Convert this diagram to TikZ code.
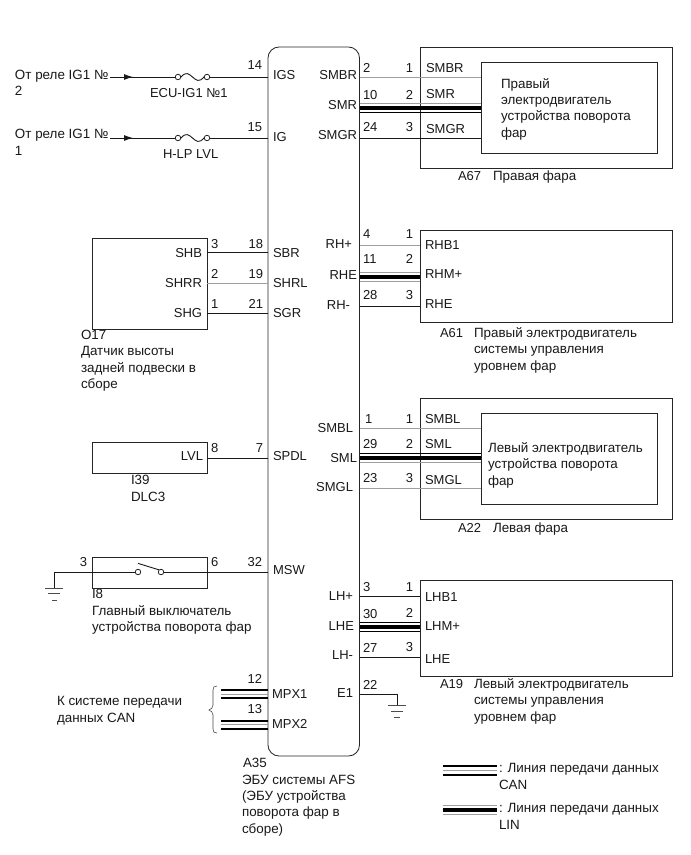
\documentclass[tikz,border=0pt]{standalone}
\usepackage{fontspec}
\setmainfont{Liberation Sans}
\usetikzlibrary{arrows.meta}
\definecolor{wgray}{gray}{0.62}
\tikzset{
  x=1pt,y=-1pt,
  box/.style={draw=black!85,line width=0.85pt,fill=white,inner sep=0pt,outer sep=0pt},
  wire/.style={line width=0.9pt,draw=black!90},
  gwire/.style={line width=1pt,draw=wgray},
  bus/.style={line width=4pt,draw=black},
  can/.style={line width=2pt,draw=black},
  lw/.style={anchor=base west,inner sep=0pt,outer sep=0pt,font=\fontsize{13}{16.3}\selectfont,text=black!90},
  le/.style={anchor=base east,inner sep=0pt,outer sep=0pt,font=\fontsize{13}{16.3}\selectfont,text=black!90},
  ml/.style={lw,align=left,font=\fontsize{13.4}{16.3}\selectfont},
  term/.style={circle,draw=black!85,line width=0.8pt,fill=white,inner sep=0pt,minimum size=5.5pt},
  gnd/.style={line width=0.8pt,draw=black!70},
}
% #1 left anchor, #2 right anchor, #3 y, #4 top colour, #5 bottom colour
\newcommand{\linwire}[5]{%
  \draw[line width=0.9pt,draw=#4] (#1 |- 0,#3-4.5) -- (#2 |- 0,#3-4.5);
  \draw[bus] (#1 |- 0,#3) -- (#2 |- 0,#3);
  \draw[line width=0.9pt,draw=#5] (#1 |- 0,#3+4.5) -- (#2 |- 0,#3+4.5);}
\begin{document}
\begin{tikzpicture}
\useasboundingbox (0,0) rectangle (691,855);
\fill[white] (0,0) rectangle (691,855);
% boxes (outer first)
\node[box,rounded corners=11pt,minimum width=91.5pt,minimum height=709pt] (ecu) at (313.75,401.5) {};
\node[box,minimum width=252pt,minimum height=121pt] (a67) at (546,107.5) {};
\node[box,minimum width=252pt,minimum height=92pt] (a61) at (546,276) {};
\node[box,minimum width=252pt,minimum height=121pt] (a22) at (546,458.5) {};
\node[box,minimum width=252pt,minimum height=96pt] (a19) at (546,628) {};
\node[box,minimum width=115pt,minimum height=91pt] (o17) at (149.5,283.5) {};
\node[box,minimum width=115pt,minimum height=31pt] (i39) at (149.5,457.5) {};
\node[box,minimum width=115pt,minimum height=31pt] (i8) at (149.5,572.5) {};
% inner boxes, placed so right wires can end on them
\coordinate (a67e) at (481,107.5);
\coordinate (a22e) at (481,458.5);
\draw[gwire] (ecu.east |- 0,77) -- (a67e |- 0,77);
\draw[wire] (ecu.east |- 0,138) -- (a67e |- 0,138);
\linwire{ecu.east}{a67e}{107.7}{wgray}{black}
\draw[gwire] (ecu.east |- 0,428) -- (a22e |- 0,428);
\draw[gwire] (ecu.east |- 0,488) -- (a22e |- 0,488);
\linwire{ecu.east}{a22e}{457.7}{black}{wgray}
\node[box,minimum width=176pt,minimum height=91pt] (a67m) at (569,107.5) {};
\node[box,minimum width=176pt,minimum height=91pt] (a22m) at (569,458.5) {};
\draw[gwire] (ecu.east |- 0,245.7) -- (a61.west |- 0,245.7);
\linwire{ecu.east}{a61.west}{276.5}{wgray}{wgray}
\draw[wire] (ecu.east |- 0,306) -- (a61.west |- 0,306);
\draw[wire] (ecu.east |- 0,596) -- (a19.west |- 0,596);
\linwire{ecu.east}{a19.west}{627}{black}{black}
\draw[wire] (ecu.east |- 0,657) -- (a19.west |- 0,657);
% left wires
\draw[wire] (o17.east |- 0,252) -- (ecu.west |- 0,252);
\draw[gwire] (o17.east |- 0,283) -- (ecu.west |- 0,283);
\draw[wire] (o17.east |- 0,313) -- (ecu.west |- 0,313);
\draw[wire] (i39.east |- 0,458) -- (ecu.west |- 0,458);
% fuse feeds
\coordinate (s1) at (110,77);
\coordinate (s2) at (110,138);
\node[term] (f1a) at (178,77) {};
\node[term] (f1b) at (207,77) {};
\node[term] (f2a) at (178,138) {};
\node[term] (f2b) at (207,138) {};
\draw[wire,-{Latex[length=9pt,width=6pt]}] (s1) -- (133,77);
\draw[wire] (s1) -- (f1a) (f1b) -- (ecu.west |- f1b);
\draw[wire,-{Latex[length=9pt,width=6pt]}] (s2) -- (133,138);
\draw[wire] (s2) -- (f2a) (f2b) -- (ecu.west |- f2b);
\draw[wire] (f1a.east) .. controls (186,71) and (189,74) .. (192.5,77) .. controls (196,80) and (199,83) .. (f1b.west);
\draw[wire] (f2a.east) .. controls (186,132) and (189,135) .. (192.5,138) .. controls (196,141) and (199,144) .. (f2b.west);
% switch and ground
\coordinate (g1) at (54,587.5);
\node[term] (swa) at (138,572) {};
\node[term] (swb) at (161,572) {};
\draw[wire] (g1) -- (54,572) -- (swa);
\draw[wire] (swb) -- (ecu.west |- swb);
\draw[wire] (swa.north) ++(0,-5.5) coordinate (sw0) -- (swb.north west);
\draw[gnd] (45,588) -- (63,588) (48,593) -- (60,593) (52,600) -- (57,600);
% E1 ground
\coordinate (g2) at (397,705);
\draw[wire] (ecu.east |- 0,694) -- (397,694) -- (g2);
\draw[gnd] (388,705) -- (406,705) (391,711) -- (403,711) (394,717) -- (400,717);
% CAN stubs
\coordinate (c1) at (221,690);
\coordinate (c2) at (221,698);
\coordinate (c3) at (221,720.5);
\coordinate (c4) at (221,729);
\draw[can] (c1) -- (ecu.west |- c1);
\draw[gwire] (221,694) -- (ecu.west |- 0,694);
\draw[can] (c2) -- (ecu.west |- c2);
\draw[can] (c3) -- (ecu.west |- c3);
\draw[gwire] (221,724.5) -- (ecu.west |- 0,724.5);
\draw[can] (c4) -- (ecu.west |- c4);
% brace
\draw[line width=0.6pt,draw=black!70] (217,686) .. controls (214,686) and (213,687) .. (213,690) -- (213,705) .. controls (213,708) and (211,709) .. (209,710) .. controls (211,711) and (213,712) .. (213,715) -- (213,729) .. controls (213,732) and (214,733) .. (217,733);
% legend
\coordinate (lc) at (443,766);
\draw[can] (lc) -- (497,766);
\draw[gwire] (443,770.5) -- (497,770.5);
\draw[can] (443,775) -- (497,775);
\coordinate (ll) at (443,810);
\draw[gwire] (443,805.5) -- (497,805.5);
\draw[bus] (ll) -- (497,810);
\draw[gwire] (443,814.5) -- (497,814.5);
% left-aligned labels
\foreach \n/\x/\y/\t in {
 tigs/273/79/IGS, tig/273/141/IG, tsbr/273/257/SBR, tshrl/273/287/SHRL, tsgr/273/317/SGR,
 tspdl/273/460/SPDL, tmsw/273/574/MSW, tmpxa/272/698/MPX1, tmpxb/272/728/MPX2,
 rsmbr/426/72/SMBR, rsmr/426/98/SMR, rsmgr/426/133/SMGR,
 rhba/425/249/RHB1, rhm/425/278/RHM+, rhe/425/308/RHE,
 rsmbl/425/423/SMBL, rsml/425/448/SML, rsmgl/425/484/SMGL,
 lhba/425/601/LHB1, lhm/425/630/LHM+, lhe/425/663/LHE,
 pa/363/72/2, pb/363/99/10, pc/363/131/24, pd/363/238/4, pe/363/263/11, pf/363/299/28,
 pg/365/423/1, ph/363/448/29, pi/363/482/23, pj/363/591/3, pk/363/618/30, pl/363/652/27, pm/363/689/22,
 qa/211/248/3, qb/211/278/2, qc/211/308/1, qd/211/452/8, qe/211/566/6,
 cap1/458/180/A67, cap2/440/337/A61, cap3/458/532/A22,
 cap4/440/688/A19, fua/150/97/ECU-IG1 №1, fub/163/158/H-LP LVL
}{\node[lw] (\n) at (\x,\y) {\t};}
\node[ml] (cap1b) at (493,180) {Правая фара};
\node[ml] (cap3b) at (493,532) {Левая фара};
% right-aligned labels
\foreach \n/\x/\y/\t in {
 esmbr/357/79/SMBR, esmr/357/109/SMR, esmgr/357/139/SMGR,
 erha/352/248/RH+, erhe/357/279/RHE, erhb/350/309/RH-,
 esmbl/353/432/SMBL, esml/357/462/SML, esmgl/353/491/SMGL,
 elha/353/600/LH+, elhe/354/630/LHE, elhb/353/659/LH-, eea/353/697/E1,
 na/262/69/14, nb/262/131/15, nc/263/248/18, nd/263/278/19, ne/263/308/21, nf/263/452/7, ng/262/566/32, nh/262/683/12, ni/262/713/13,
 ma/413/72/1, mb/413/99/2, mc/413/131/3, md/413/238/1, me/413/263/2, mf/413/299/3,
 mg/413/423/1, mh/413/448/2, mi/413/482/3, mj/413/591/1, mk/413/617/2, ml/413/651/3,
 oa/202/257/SHB, ob/202/287/SHRR, oc/202/317/SHG, ia/203/460/LVL, ib/87/566/3
}{\node[le] (\n) at (\x,\y) {\t};}
% multi-line labels (anchored at the baseline of their last line)
\node[ml] (src1) at (15,95.5) {От реле IG1 №\\2};
\node[ml] (src2) at (15,155) {От реле IG1 №\\1};
\node[ml] (mtra) at (501,137) {Правый\\электродвигатель\\устройства поворота\\фар};
\node[ml] (mtla) at (488,485) {Левый электродвигатель\\устройства поворота\\фар};
\node[ml] (a61t) at (474,370) {Правый электродвигатель\\системы управления\\уровнем фар};
\node[ml] (a19t) at (474,721) {Левый электродвигатель\\системы управления\\уровнем фар};
\node[ml] (o17t) at (81,388.5) {O17\\Датчик высоты\\задней подвески в\\сборе};
\node[ml] (i39t) at (131,501) {I39\\DLC3};
\node[ml] (i8t) at (92,631.5) {I8\\Главный выключатель\\устройства поворота фар};
\node[ml] (cant) at (57,722) {К системе передачи\\данных CAN};
\node[ml] (a35t) at (242,833) {\hspace{1pt}A35\\ЭБУ системы AFS\\(ЭБУ устройства\\поворота фар в\\сборе)};
\node[ml] (lgc) at (499,789) {: Линия передачи данных\\CAN};
\node[ml] (lgl) at (499,829) {: Линия передачи данных\\LIN};
\end{tikzpicture}
\end{document}
